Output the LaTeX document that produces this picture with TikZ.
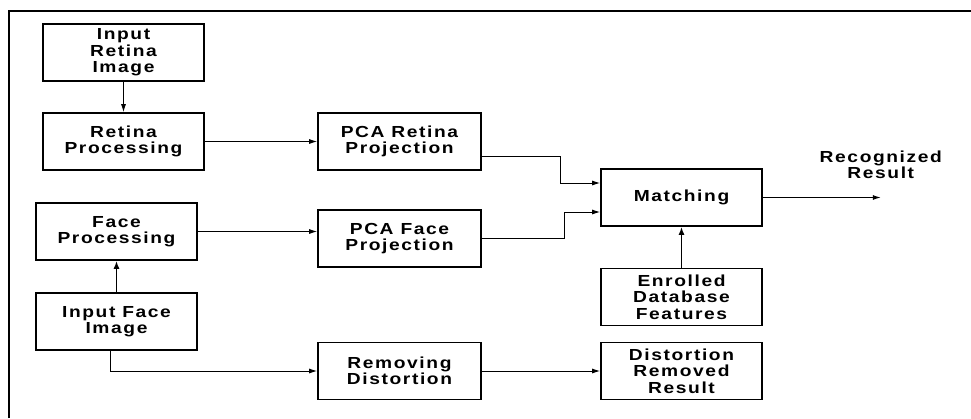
\documentclass[tikz,border=0pt]{standalone}
\usepackage{fontspec}
\usepackage{tikz}
\usetikzlibrary{shapes,arrows,arrows.meta,positioning,calc}
\newfontfamily\boxfont[FakeStretch=1.2,LetterSpace=10]{Liberation Sans}
\tikzset{
  blk/.style={draw, line width=1.6pt, minimum width=161pt, minimum height=57pt, inner sep=2pt, align=center},
  arr/.style={-{Latex[length=8pt,width=5pt]}, line width=1pt},
  arrt/.style={-{Latex[length=8pt,width=6pt]}, line width=1.6pt}
}
\begin{document}
\begin{tikzpicture}[on grid, font=\boxfont\bfseries\fontsize{16pt}{16.5pt}\selectfont]
      \useasboundingbox (0,0) rectangle (971pt,-418pt);
      \draw[line width=2pt] (9pt,-418pt) -- (9pt,-11pt) -- (971pt,-11pt);

      \node[blk] (inret) at (123.5pt,-52.5pt) {Input\\Retina\\Image};
      \node[blk, below=89pt of inret] (retproc) {Retina\\Processing};
      \node[blk, below left=90pt and 7pt of retproc] (faceproc) {Face\\Processing};
      \node[blk, below=90pt of faceproc] (inface) {Input Face\\Image};
      \node[blk, minimum width=163pt, right=276pt of retproc] (pcaret) {PCA Retina\\Projection};
      \node[blk, minimum width=163pt, below=97pt of pcaret] (pcaface) {PCA Face\\Projection};
      \node[blk, minimum width=163pt, below=132.5pt of pcaface] (remdist) {Removing\\Distortion};
      \node[blk, below right=56pt and 282pt of pcaret] (match) {Matching};
      \node[blk, below=99.5pt of match] (enroll) {Enrolled\\Database\\Features};
      \node[blk, right=282pt of remdist] (distres) {Distortion\\Removed\\Result};
      \coordinate (recogend) at ([xshift=118pt]match.east);
      \node[align=center, inner sep=0pt, above=18.5pt of recogend] (recog) {Recognized\\Result};

      \draw[arr] (inret) -- (retproc);
      \draw[arr] (retproc) -- (pcaret);
      \draw[arr] (faceproc.east) -- (faceproc.east -| pcaface.west);
      \draw[arrt] (inface) -- (faceproc);
      \draw[arr] ([xshift=-6.5pt]inface.south) |- (remdist.west);
      \draw[arr] ([yshift=-14.5pt]pcaret.east) -- ++(79pt,0) |- ([yshift=14.5pt]match.west);
      \draw[arr] (pcaface.east) -- ++(83pt,0) |- ([yshift=-14.5pt]match.west);
      \draw[arrt] (enroll) -- (match);
      \draw[arr] (remdist) -- (distres);
      \draw[arr] (match.east) -- (recogend);
    \end{tikzpicture}
\end{document}
